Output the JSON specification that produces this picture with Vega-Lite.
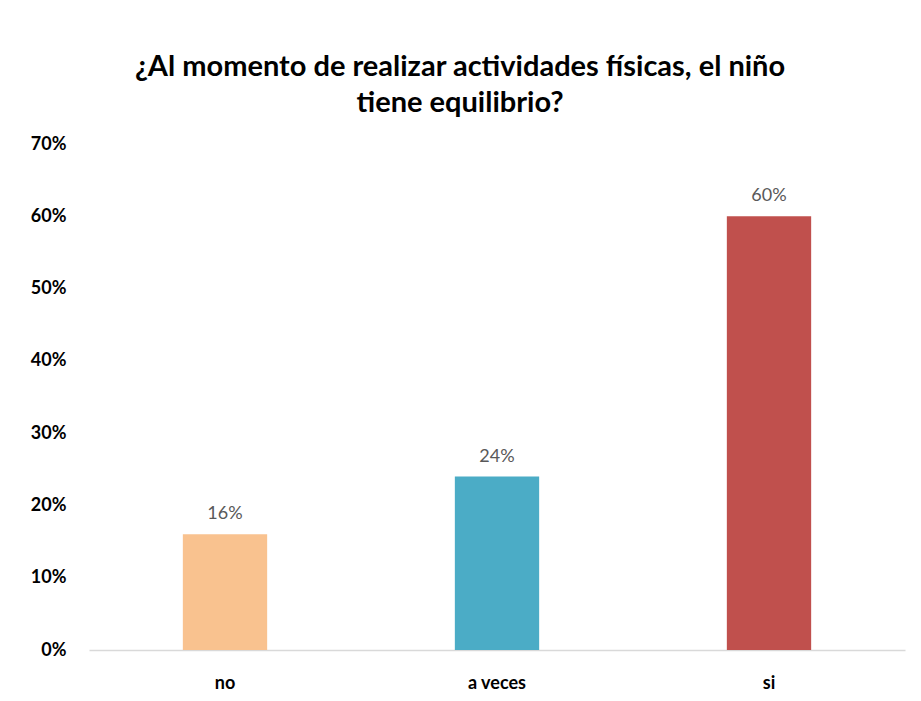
{
  "$schema": "https://vega.github.io/schema/vega-lite/v6.json",
  "autosize": "none",
  "width": 816,
  "height": 506,
  "padding": {"left": 89, "top": 144, "right": 16, "bottom": 51},
  "background": "white",
  "config": {"view": {"stroke": null}},
  "title": {
    "text": ["¿Al momento de realizar actividades físicas, el niño", "tiene equilibrio?"],
    "font": "Lato",
    "fontSize": 29,
    "fontWeight": "bold",
    "color": "#000000",
    "anchor": "middle",
    "frame": "group",
    "dx": -37,
    "offset": 17,
    "lineHeight": 36
  },
  "data": {
    "values": [
      {"respuesta": "no", "porcentaje": 0.16},
      {"respuesta": "a veces", "porcentaje": 0.24},
      {"respuesta": "si", "porcentaje": 0.60}
    ]
  },
  "encoding": {
    "x": {
      "field": "respuesta",
      "type": "nominal",
      "sort": ["no", "a veces", "si"],
      "scale": {"paddingInner": 0.69, "paddingOuter": 0.345},
      "axis": {
        "title": null,
        "labelAngle": 0,
        "ticks": false,
        "domainColor": "#D9D9D9",
        "domainWidth": 1.5,
        "labelFont": "Lato",
        "labelFontSize": 18,
        "labelFontWeight": "bold",
        "labelColor": "#000000",
        "labelPadding": 24
      }
    },
    "y": {
      "field": "porcentaje",
      "type": "quantitative",
      "scale": {"domain": [0, 0.7]},
      "axis": {
        "title": null,
        "values": [0, 0.1, 0.2, 0.3, 0.4, 0.5, 0.6, 0.7],
        "format": ".0%",
        "grid": false,
        "domain": false,
        "ticks": false,
        "labelFont": "Lato",
        "labelFontSize": 18,
        "labelFontWeight": "bold",
        "labelColor": "#000000",
        "labelPadding": 23
      }
    }
  },
  "layer": [
    {
      "mark": {"type": "bar"},
      "encoding": {
        "color": {
          "field": "respuesta",
          "type": "nominal",
          "scale": {"domain": ["no", "a veces", "si"], "range": ["#F9C28F", "#4BACC6", "#C0504D"]},
          "legend": null
        }
      }
    },
    {
      "mark": {"type": "text", "dy": -20, "font": "Lato", "fontSize": 18, "color": "#595959"},
      "encoding": {
        "text": {"field": "porcentaje", "type": "quantitative", "format": ".0%"}
      }
    }
  ]
}
